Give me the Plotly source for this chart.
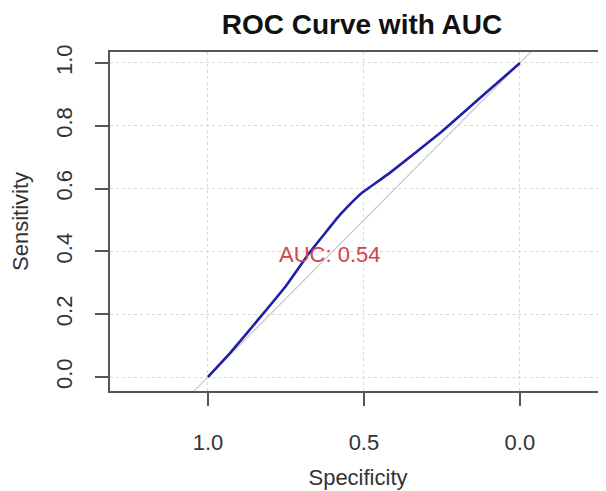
import plotly.graph_objects as go

# ROC curve points
specificity = [1.0, 0.93, 0.827, 0.75, 0.673, 0.577, 0.53, 0.503, 0.417, 0.256, 0.13, 0.0]
sensitivity = [0.0, 0.075, 0.197, 0.29, 0.398, 0.516, 0.565, 0.589, 0.65, 0.777, 0.887, 1.0]
diag_spec = [1.2, -0.2]
diag_sens = [-0.2, 1.2]
auc_value = 0.54
x_ticks = [1.0, 0.5, 0.0]
x_tick_labels = ["1.0", "0.5", "0.0"]
y_ticks = [0.0, 0.2, 0.4, 0.6, 0.8, 1.0]
y_tick_labels = ["0.0", "0.2", "0.4", "0.6", "0.8", "1.0"]

FONT = "Liberation Sans, Arial, sans-serif"
W, H = 598, 483

fig = go.Figure()
fig.add_trace(go.Scatter(x=diag_spec, y=diag_sens, mode="lines",
                         line=dict(color="#c8c8c8", width=1.2), showlegend=False, hoverinfo="skip"))
fig.add_trace(go.Scatter(x=specificity, y=sensitivity, mode="lines",
                         line=dict(color="#1f1fa8", width=2.6, shape="spline", smoothing=0.3),
                         showlegend=False))

fig.add_annotation(x=0.609, y=0.389, xref="x", yref="y", text=f"AUC: {auc_value:.2f}",
                   showarrow=False, font=dict(family=FONT, size=22, color="#d04545"))

axis_common = dict(showgrid=True, gridcolor="#d9d9d9", griddash="dot", gridwidth=1,
                   zeroline=False, showline=True, linecolor="#555555", linewidth=1.5,
                   ticks="outside", ticklen=13, tickwidth=1.5, tickcolor="#555555",
                   tickfont=dict(family=FONT, size=22, color="#333333"))

fig.update_layout(
    width=W, height=H,
    margin=dict(l=102, r=0, t=44, b=100),
    paper_bgcolor="white", plot_bgcolor="white",
    title=dict(text="<b>ROC Curve with AUC</b>", x=354 / W, xref="container", xanchor="center",
               y=1 - 16 / H, yref="container", yanchor="middle",
               font=dict(family=FONT, size=28, color="#111111")),
    xaxis=dict(range=[1.314, -0.276], tickvals=x_ticks, ticktext=x_tick_labels,
               mirror=True, ticklabelstandoff=18,
               title=dict(text="Specificity", standoff=15,
                          font=dict(family=FONT, size=22, color="#333333")),
               **axis_common),
    yaxis=dict(range=[-0.0446, 1.035], tickvals=y_ticks, ticktext=y_tick_labels,
               tickangle=-90, ticklabelstandoff=14,
               title=dict(text="Sensitivity", standoff=18,
                          font=dict(family=FONT, size=22, color="#333333")),
               **axis_common),
)

fig.write_html("out.html")
